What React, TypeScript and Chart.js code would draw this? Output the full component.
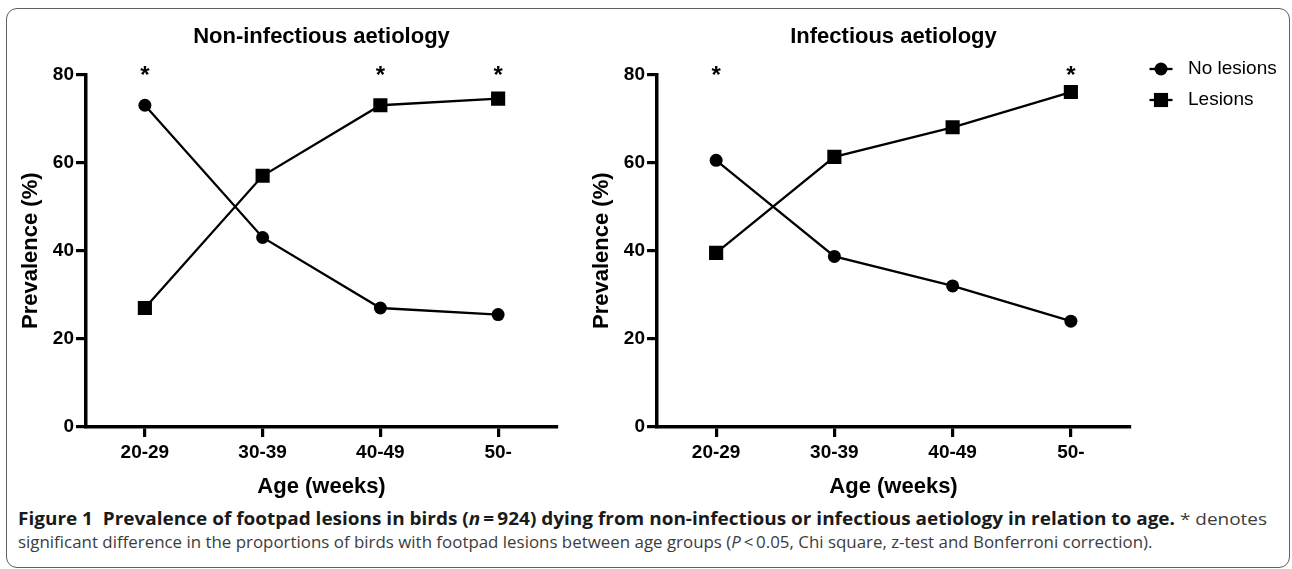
import React, { useEffect, useRef } from 'react';
import { Chart, registerables } from 'chart.js';

Chart.register(...registerables);

// ---------- data ----------
const categories = ['20-29', '30-39', '40-49', '50-'];
const seriesNames = ['No lesions', 'Lesions'];
const nonInfectiousNoLesions = [73, 43, 27, 25.5];
const nonInfectiousLesions = [27, 57, 73, 74.5];
const infectiousNoLesions = [60.5, 38.7, 32, 24];
const infectiousLesions = [39.5, 61.3, 68, 76];
const nonInfectiousSignificant = [true, false, true, true];
const infectiousSignificant = [true, false, false, true];
const yTickValues = [0, 20, 40, 60, 80];
const panelTitles = ['Non-infectious aetiology', 'Infectious aetiology'];
const xTitle = 'Age (weeks)';
const yTitle = 'Prevalence (%)';

const SANS = '"Liberation Sans", Arial, Helvetica, sans-serif';
const CAPTION_FONT = '"Open Sans", "Noto Sans", sans-serif';

const CANVAS_H = 500;

const significancePlugin = {
  id: 'significance',
  afterDatasetsDraw(chart: any, _args: any, opts: any) {
    const flags: boolean[] = (opts && opts.flags) || [];
    const x = chart.scales.x;
    const y = chart.scales.y;
    const ctx = chart.ctx;
    ctx.save();
    ctx.font = `bold 24px ${SANS}`;
    ctx.fillStyle = '#000';
    ctx.textAlign = 'center';
    ctx.textBaseline = 'alphabetic';
    const top = y.getPixelForValue(y.max);
    flags.forEach((f, i) => {
      if (f) ctx.fillText('*', x.getPixelForValue(i), top + 9);
    });
    ctx.restore();
  },
};

const sideLegendPlugin = {
  id: 'sideLegend',
  afterDraw(chart: any, _args: any, opts: any) {
    if (!opts || !opts.display) return;
    const ctx = chart.ctx;
    chart.data.datasets.forEach((ds: any, i: number) => {
      const cx = opts.x;
      const cy = opts.y + i * opts.spacing;
      ctx.save();
      ctx.strokeStyle = ds.borderColor;
      ctx.lineWidth = ds.borderWidth;
      ctx.beginPath();
      ctx.moveTo(cx - opts.lineHalf, cy);
      ctx.lineTo(cx + opts.lineHalf, cy);
      ctx.stroke();
      ctx.fillStyle = ds.pointBackgroundColor;
      if (ds.pointStyle === 'rect') {
        const s = ds.pointRadius * Math.SQRT1_2;
        ctx.fillRect(cx - s, cy - s, 2 * s, 2 * s);
      } else {
        ctx.beginPath();
        ctx.arc(cx, cy, ds.pointRadius, 0, Math.PI * 2);
        ctx.fill();
      }
      ctx.font = `19px ${SANS}`;
      ctx.textBaseline = 'middle';
      ctx.textAlign = 'left';
      ctx.fillStyle = '#000';
      ctx.fillText(ds.label, cx + opts.textGap, cy);
      ctx.restore();
    });
  },
};

function buildConfig(
  title: string,
  noLesions: number[],
  lesions: number[],
  significant: boolean[],
  rightPad: number,
  legend: any
): any {
  const tickFont = { family: SANS, size: 19, weight: 'bold' as const };
  const titleFont = { family: SANS, size: 22, weight: 'bold' as const };
  const axisGrid = {
    display: true,
    drawOnChartArea: false,
    drawTicks: true,
    tickLength: 10,
    tickWidth: 3.2,
    lineWidth: 3.2,
    tickColor: '#000',
    color: '#000',
  };
  return {
    type: 'line',
    data: {
      labels: categories,
      datasets: [
        {
          label: seriesNames[0],
          data: noLesions,
          borderColor: '#000',
          backgroundColor: '#000',
          borderWidth: 2.3,
          pointStyle: 'circle',
          pointRadius: 6.5,
          pointBackgroundColor: '#000',
          pointBorderWidth: 0,
          tension: 0,
          fill: false,
        },
        {
          label: seriesNames[1],
          data: lesions,
          borderColor: '#000',
          backgroundColor: '#000',
          borderWidth: 2.3,
          pointStyle: 'rect',
          pointRadius: 10,
          pointBackgroundColor: '#000',
          pointBorderWidth: 0,
          tension: 0,
          fill: false,
        },
      ],
    },
    options: {
      animation: false,
      responsive: false,
      devicePixelRatio: 1,
      layout: { padding: { left: 0, top: 0, right: rightPad, bottom: 0 } },
      plugins: {
        legend: { display: false },
        tooltip: { enabled: false },
        title: {
          display: true,
          text: title,
          fullSize: false,
          color: '#000',
          font: titleFont,
          padding: { top: 24, bottom: 24 },
        },
        significance: { flags: significant },
        sideLegend: legend,
      },
      scales: {
        x: {
          type: 'category',
          offset: true,
          border: { display: true, color: '#000', width: 3.5 },
          grid: axisGrid,
          ticks: { color: '#000', font: tickFont, padding: 4, maxRotation: 0, autoSkip: false },
          title: {
            display: true,
            text: xTitle,
            color: '#000',
            font: titleFont,
            padding: { top: 0, bottom: 0 },
          },
          afterFit: (s: any) => {
            s.height = 73;
          },
        },
        y: {
          min: yTickValues[0],
          max: yTickValues[yTickValues.length - 1],
          afterBuildTicks: (s: any) => {
            s.ticks = yTickValues.map((v) => ({ value: v }));
          },
          border: { display: true, color: '#000', width: 3.5 },
          grid: axisGrid,
          ticks: { color: '#000', font: tickFont, padding: 2 },
          title: {
            display: true,
            text: yTitle,
            color: '#000',
            font: titleFont,
            padding: { top: 18, bottom: 0 },
          },
          afterFit: (s: any) => {
            s.width = 86;
          },
        },
      },
    },
    plugins: [significancePlugin, sideLegendPlugin],
  };
}

function ChartCanvas({ config, left, width }: { config: any; left: number; width: number }) {
  const ref = useRef<HTMLCanvasElement>(null);
  useEffect(() => {
    const chart = new Chart(ref.current as HTMLCanvasElement, config);
    return () => chart.destroy();
  }, []);
  return (
    <canvas
      ref={ref}
      width={width}
      height={CANVAS_H}
      style={{ position: 'absolute', left, top: 0, width, height: CANVAS_H }}
    />
  );
}

function measure(text: string, font: string): number {
  const c = document.createElement('canvas').getContext('2d') as CanvasRenderingContext2D;
  c.font = font;
  return c.measureText(text).width;
}

const captionBold1 = 'Figure 1\u00a0\u00a0Prevalence of footpad lesions in birds (n\u2009=\u2009924) dying from non-infectious or infectious aetiology in relation to age.';
const captionReg1 = ' * denotes';
const captionLine2 = 'significant difference in the proportions of birds with footpad lesions between age groups (P\u2009<\u20090.05, Chi square, z-test and Bonferroni correction).';

export default function App() {
  const leftConfig = buildConfig(
    panelTitles[0],
    nonInfectiousNoLesions,
    nonInfectiousLesions,
    nonInfectiousSignificant,
    43,
    { display: false }
  );
  const rightConfig = buildConfig(
    panelTitles[1],
    infectiousNoLesions,
    infectiousLesions,
    infectiousSignificant,
    162,
    { display: true, x: 590, y: 69, spacing: 31, lineHalf: 11.5, textGap: 27 }
  );

  const capSize = 17;
  const boldFont = `bold ${capSize}px ${CAPTION_FONT}`;
  const regFont = `${capSize}px ${CAPTION_FONT}`;
  const k1 = 1250 / (measure(captionBold1, boldFont) + measure(captionReg1, regFont));
  const k2 = 1135 / measure(captionLine2, regFont);

  const lineStyle = (top: number, k: number): React.CSSProperties => ({
    position: 'absolute',
    left: 18,
    top,
    fontFamily: CAPTION_FONT,
    fontSize: capSize,
    lineHeight: 1,
    whiteSpace: 'pre',
    transform: `scaleX(${k})`,
    transformOrigin: '0 0',
    color: '#3c3c3c',
  });

  const [b1a, b1b] = captionBold1.split('n\u2009=');
  const [l2a, l2b] = captionLine2.split('P\u2009<');

  return (
    <div
      style={{
        position: 'absolute',
        left: 0,
        top: 0,
        width: 1292,
        height: 569,
        background: '#fff',
        overflow: 'hidden',
      }}
    >
      <div
        style={{
          position: 'absolute',
          left: 6,
          top: 8,
          width: 1284,
          height: 560,
          border: '1px solid #606060',
          borderRadius: 11,
          boxSizing: 'border-box',
        }}
      />
      <ChartCanvas config={leftConfig} left={0} width={600} />
      <ChartCanvas config={rightConfig} left={571} width={721} />
      <div style={lineStyle(510, k1)}>
        <span style={{ fontWeight: 'bold', color: '#1a1a1a' }}>
          {b1a}
          <i>n</i>
          {'\u2009=' + b1b}
        </span>
        {captionReg1}
      </div>
      <div style={lineStyle(533, k2)}>
        {l2a}
        <i>P</i>
        {'\u2009<' + l2b}
      </div>
    </div>
  );
}
